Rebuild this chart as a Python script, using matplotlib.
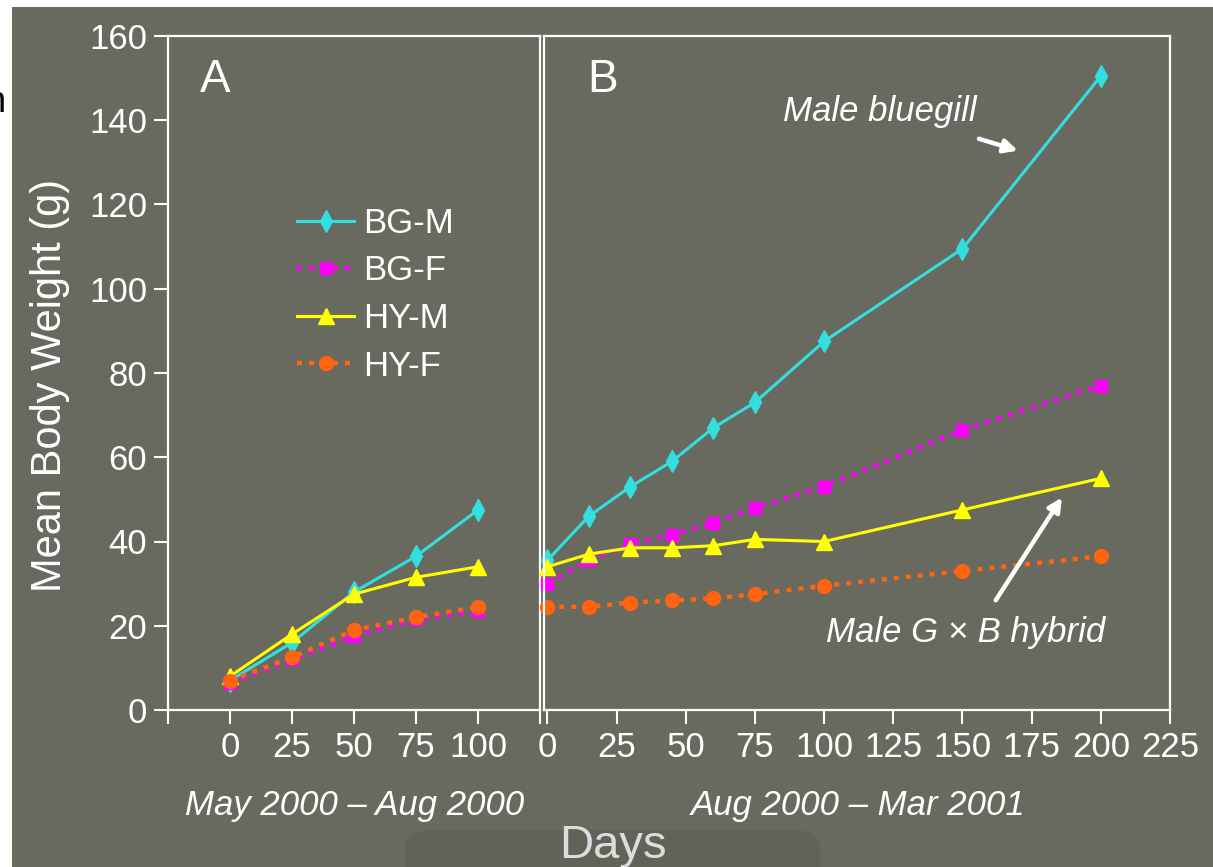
"""Mean body weight of bluegill and hybrid sunfish, two growth periods."""

import matplotlib
import matplotlib.pyplot as plt
from matplotlib.patches import FancyBboxPatch, Rectangle

matplotlib.use("Agg")

plt.rcParams["font.family"] = ["Liberation Sans", "DejaVu Sans"]

# ── data ───────────────────────────────────────────────────────────────
days_a = [0, 25, 50, 75, 100]
bgm_a = [7.0, 16.0, 28.0, 36.5, 47.5]
bgf_a = [6.5, 12.0, 17.5, 21.5, 23.5]
hym_a = [8.0, 18.0, 27.5, 31.5, 34.0]
hyf_a = [7.0, 12.5, 19.0, 22.0, 24.5]

days_b = [0, 15, 30, 45, 60, 75, 100, 150, 200]
bgm_b = [35.5, 46.0, 53.0, 59.0, 67.0, 73.0, 87.5, 109.5, 150.5]
bgf_b = [30.0, 35.5, 39.5, 41.5, 44.5, 48.0, 53.0, 66.5, 77.0]
hym_b = [34.0, 37.0, 38.5, 38.5, 39.0, 40.5, 40.0, 47.5, 55.0]
hyf_b = [24.5, 24.5, 25.5, 26.0, 26.5, 27.5, 29.5, 33.0, 36.5]

labels = ["BG-M", "BG-F", "HY-M", "HY-F"]
yticks = [0, 20, 40, 60, 80, 100, 120, 140, 160]
xticks_a = [-25, 0, 25, 50, 75, 100, 125]
xticks_b = [0, 25, 50, 75, 100, 125, 150, 175, 200, 225]

W, H = 1213, 867
BG = "#696a5f"
FG = "white"

STYLES = [
    dict(color="#33dede", marker="d", ms=11, ls="-", lw=2.2),
    dict(color="#ff00ff", marker="s", ms=9, ls=(0, (1.1, 1.6)), lw=3.2),
    dict(color="#ffff00", marker="^", ms=12, ls="-", lw=2.2),
    dict(color="#ff6410", marker="o", ms=10, ls=(0, (1.1, 1.6)), lw=3.2),
]


def px_box(left, top, right, bottom):
    """Pixel edges -> figure fraction [l, b, w, h]."""
    return [left / W, 1 - bottom / H, (right - left) / W, (bottom - top) / H]


def style_axes(ax):
    ax.set_facecolor("none")
    for sp in ax.spines.values():
        sp.set_color(FG)
        sp.set_linewidth(1.6)
    ax.tick_params(colors=FG, direction="out", length=10, width=1.5,
                   labelsize=25, pad=5)


fig = plt.figure(figsize=(W / 100, H / 100), dpi=100, facecolor="white")
fig.patches.append(Rectangle((12 / W, 0), 1, 1 - 7 / H, transform=fig.transFigure,
                             facecolor=BG, edgecolor="none", zorder=-10))

ax_a = fig.add_axes(px_box(168, 36, 540, 710))
ax_b = fig.add_axes(px_box(544, 36, 1170, 710))

series_a = [bgm_a, bgf_a, hym_a, hyf_a]
series_b = [bgm_b, bgf_b, hym_b, hyf_b]

for vals, lab, st in zip(series_a, labels, STYLES):
    ax_a.plot(days_a, vals, label=lab, color=st["color"], marker=st["marker"],
              ms=st["ms"], ls=st["ls"], lw=st["lw"], mec=st["color"],
              clip_on=False)
for vals, st in zip(series_b, STYLES):
    ax_b.plot(days_b, vals, color=st["color"], marker=st["marker"],
              ms=st["ms"], ls=st["ls"], lw=st["lw"], mec=st["color"],
              clip_on=False)

for ax in (ax_a, ax_b):
    style_axes(ax)
    ax.set_ylim(0, 160)

ax_a.set_xlim(-25, 125)
ax_a.set_xticks(xticks_a)
ax_a.set_xticklabels(["" if t < 0 or t > 100 else str(t) for t in xticks_a])
ax_a.set_yticks(yticks)

ax_b.set_xlim(-1.2, 225)
ax_b.set_xticks(xticks_b)
ax_b.set_yticks([])

# ── panel letters ──────────────────────────────────────────────────────
ax_a.text(-6, 149.5, "A", color=FG, fontsize=33, ha="center", va="center")
ax_b.text(20, 149.5, "B", color=FG, fontsize=33, ha="center", va="center")

# ── legend ─────────────────────────────────────────────────────────────
leg = ax_a.legend(loc="upper left", bbox_to_anchor=(283 / W, 1 - 193 / H),
                  bbox_transform=fig.transFigure, frameon=False, fontsize=25,
                  handlelength=1.65, handletextpad=0.25, labelspacing=0.42,
                  borderaxespad=0)
for txt in leg.get_texts():
    txt.set_color(FG)

# ── annotations ────────────────────────────────────────────────────────
arrow = dict(arrowstyle="-|>,head_length=0.8,head_width=0.4", color=FG, lw=3.2)
ax_b.text(120, 142, "Male bluegill", color=FG, fontsize=25, style="italic",
          ha="center", va="center")
ax_b.annotate("", xy=(171, 132.6), xytext=(155, 135.8), arrowprops=arrow)
ax_b.text(151, 18.5, "Male G \u00d7 B hybrid", color=FG, fontsize=25,
          style="italic", ha="center", va="center")
ax_b.annotate("", xy=(186.5, 51), xytext=(161.5, 25.5), arrowprops=arrow)

# ── axis titles ────────────────────────────────────────────────────────
fig.text(355 / W, 1 - 805 / H, "May 2000 \u2013 Aug 2000", color=FG,
         fontsize=25, style="italic", ha="center", va="center")
fig.text(858 / W, 1 - 805 / H, "Aug 2000 \u2013 Mar 2001", color=FG,
         fontsize=25, style="italic", ha="center", va="center")
fig.text(50 / W, 1 - 385 / H, "Mean Body Weight (g)", color=FG, fontsize=30,
         rotation=90, ha="center", va="center")

# viewer toolbar overlay at the bottom
fig.patches.append(FancyBboxPatch((405 / W, -0.02), 415 / W, 0.062,
                                  boxstyle="round,pad=0,rounding_size=0.02",
                                  transform=fig.transFigure, facecolor="#5f6057",
                                  edgecolor="none", alpha=0.8, zorder=-5))
fig.text(613 / W, 1 - 846 / H, "Days", color="#dcdcdc", fontsize=34,
         ha="center", va="center")

# cropped glyph on the left edge
fig.text(6 / W, 1 - 103 / H, "n", color="black", fontsize=26, ha="right",
         va="center")

fig.savefig("out.png", dpi=100, facecolor=fig.get_facecolor())
